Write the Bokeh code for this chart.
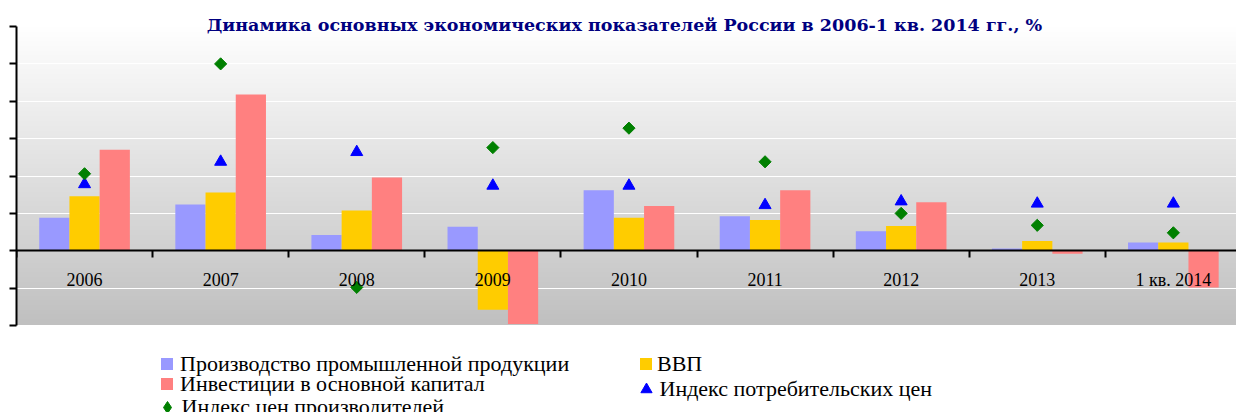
import numpy as np
from bokeh.plotting import figure
from bokeh.models import (ColumnDataSource, Range1d, LinearAxis, FixedTicker, Grid,
                          Legend, LegendItem, Label)
from bokeh.transform import dodge
from bokeh.embed import file_html
from bokeh.resources import INLINE

# ---------------- data ----------------
categories = ["2006", "2007", "2008", "2009", "2010", "2011", "2012", "2013", "1 кв. 2014"]
industrial = [4.4, 6.2, 2.1, 3.2, 8.1, 4.6, 2.6, 0.3, 1.1]      # Производство промышленной продукции
gdp = [7.3, 7.8, 5.4, -7.9, 4.4, 4.1, 3.3, 1.3, 1.1]             # ВВП
investment = [13.5, 20.9, 9.8, -9.8, 6.0, 8.1, 6.5, -0.4, -4.9]  # Инвестиции в основной капитал
cpi = [8.9, 11.9, 13.2, 8.7, 8.7, 6.1, 6.6, 6.3, 6.3]            # Индекс потребительских цен
ppi = [10.3, 25.0, -4.9, 13.8, 16.4, 11.9, 5.0, 3.4, 2.4]        # Индекс цен производителей
y_ticks = [-10, -5, 0, 5, 10, 15, 20, 25, 30]

title_text = "Динамика основных экономических показателей России в 2006-1 кв. 2014 гг., %"
series_names = ["Производство промышленной продукции", "ВВП", "Инвестиции в основной капитал",
                "Индекс потребительских цен", "Индекс цен производителей"]

# ---------------- layout constants (page pixels) ----------------
W, H = 1236, 412
FRAME_LEFT, AREA_TOP, AREA_BOTTOM = 16, 26, 325
CAT_PX = 136.1
SERIF = "Liberation Serif"

px_per_unit = (AREA_BOTTOM - AREA_TOP) / (y_ticks[-1] - y_ticks[0])
y_low = y_ticks[0] - (H - AREA_BOTTOM) / px_per_unit
y_high = y_ticks[-1] + AREA_TOP / px_per_unit

centers = [i + 0.5 for i in range(len(categories))]
src = ColumnDataSource(dict(x=centers, ind=industrial, gdp=gdp, inv=investment, cpi=cpi, ppi=ppi))

frame_w = W - FRAME_LEFT
p = figure(width=W, height=H, output_backend="svg", toolbar_location=None,
           x_range=Range1d(0, frame_w / CAT_PX), y_range=Range1d(y_low, y_high),
           x_axis_type=None, y_axis_type=None,
           min_border_left=FRAME_LEFT, min_border_right=0,
           min_border_top=0, min_border_bottom=0)
p.outline_line_color = None
p.background_fill_color = "white"
p.border_fill_color = "white"

# gradient background of the plot area
N = 256
shade = (192 + (255 - 192) * np.linspace(0, 1, N)).astype(np.uint8)
img = np.zeros((N, 4), dtype=np.uint32)
view = img.view(dtype=np.uint8).reshape((N, 4, 4))
view[:, :, 0] = shade[:, None]
view[:, :, 1] = shade[:, None]
view[:, :, 2] = shade[:, None]
view[:, :, 3] = 255
p.image_rgba(image=[img], x=0, y=y_ticks[0], dw=len(categories), dh=y_ticks[-1] - y_ticks[0],
             level="image")

p.add_layout(Grid(dimension=1, ticker=FixedTicker(ticks=y_ticks), grid_line_color="white",
                  grid_line_width=1))

BW = 0.222
r_ind = p.vbar(x=dodge("x", -BW), top="ind", bottom=0, width=BW, source=src,
               fill_color="#9999FF", line_color=None)
r_gdp = p.vbar(x=dodge("x", 0), top="gdp", bottom=0, width=BW, source=src,
               fill_color="#FFCC00", line_color=None)
r_inv = p.vbar(x=dodge("x", BW), top="inv", bottom=0, width=BW, source=src,
               fill_color="#FF8080", line_color=None)
r_cpi = p.scatter(x="x", y="cpi", source=src, marker="triangle", size=12,
                  fill_color="#0000FF", line_color="#0000FF")
r_ppi = p.scatter(x="x", y="ppi", source=src, marker="square", angle=np.pi / 4, size=8.6,
                  fill_color="#008000", line_color="#008000")
# legend swatch for the producer-price series (legends do not rotate markers)
r_ppi_key = p.scatter(x="x", y="ppi", source=src, marker="diamond", size=12,
                      fill_color="#008000", line_color="#008000", visible=False)

# axes
yaxis = LinearAxis(ticker=FixedTicker(ticks=y_ticks), bounds=(y_ticks[0], y_ticks[-1]),
                   major_label_overrides={t: "" for t in y_ticks},
                   major_tick_out=7, major_tick_in=0, minor_tick_out=0, minor_tick_in=0,
                   major_label_standoff=0, axis_line_width=2, major_tick_line_width=2,
                   axis_line_color="black", major_tick_line_color="black")
p.add_layout(yaxis, "left")

xaxis = LinearAxis(fixed_location=0,
                   ticker=FixedTicker(ticks=centers, minor_ticks=list(range(len(categories) + 1))),
                   major_label_overrides=dict(zip(centers, categories)),
                   major_tick_out=0, major_tick_in=0, minor_tick_out=7, minor_tick_in=0,
                   minor_tick_line_width=2, minor_tick_line_color="black",
                   axis_line_width=2, axis_line_color="black",
                   major_label_standoff=12, major_label_text_font=SERIF,
                   major_label_text_font_size="18px", major_label_text_color="black")
p.add_layout(xaxis, "below")

# title
p.add_layout(Label(x=624 - FRAME_LEFT, y=H - 24, x_units="screen", y_units="screen",
                   text=title_text, text_align="center", text_baseline="middle",
                   text_font="DejaVu Serif", text_font_style="bold", text_font_size="17.5px",
                   text_color="#000080"))

# legends (one per item, placed like the original two-column legend)
def add_legend(label, renderer, gx, gy, gsize, standoff):
    leg = Legend(items=[LegendItem(label=label, renderers=[renderer])],
                 location=(gx - FRAME_LEFT - gsize / 2, H - (gy + gsize / 2)),
                 glyph_width=gsize, glyph_height=gsize, label_height=gsize,
                 label_standoff=standoff, padding=0, margin=0, spacing=0,
                 border_line_color=None, background_fill_alpha=0, inactive_fill_alpha=0,
                 label_text_font=SERIF, label_text_font_size="22px", label_text_color="black")
    p.add_layout(leg, "center")

add_legend(series_names[0], r_ind, 166.5, 369, 15, 6)
add_legend(series_names[2], r_inv, 166.5, 389, 15, 6)
add_legend(series_names[4], r_ppi_key, 166.5, 407, 30, 0)
add_legend(series_names[1], r_gdp, 645.5, 369, 15, 4)
add_legend(series_names[3], r_cpi, 645.5, 389, 28, 0)

open("out.html", "w").write(file_html(p, INLINE))
